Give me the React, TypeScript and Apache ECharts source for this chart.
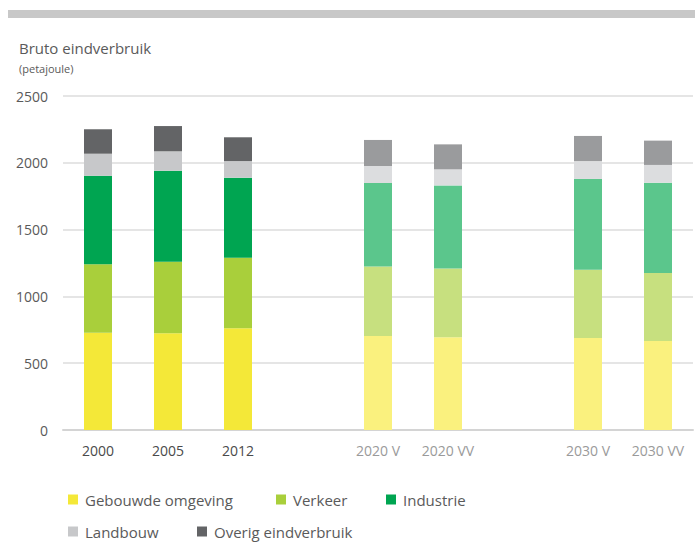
import React, { useEffect, useRef } from "react";
import * as echarts from "echarts";

const categories = ["2000", "2005", "2012", "", "2020 V", "2020 VV", "", "2030 V", "2030 VV"];
const gebouwd = [728, 724, 761, null, 704, 694, null, 689, 666];
const verkeer = [512, 536, 529, null, 519, 514, null, 511, 509];
const industrie = [663, 681, 599, null, 626, 623, null, 679, 676];
const landbouw = [165, 145, 124, null, 127, 120, null, 134, 133];
const overig = [183, 189, 178, null, 195, 187, null, 188, 182];
const projection = [false, false, false, false, true, true, false, true, true];

const seriesNames = ["Gebouwde omgeving", "Verkeer", "Industrie", "Landbouw", "Overig eindverbruik"];
const seriesValues = [gebouwd, verkeer, industrie, landbouw, overig];
const histColors = ["#f4e838", "#a9cf3b", "#00a551", "#c7c8ca", "#636466"];
const projColors = ["#faf17e", "#c7e07f", "#5bc68c", "#dcdddf", "#9a9b9d"];

const FONT = "'Open Sans', 'Noto Sans', sans-serif";

export default function App() {
  const ref = useRef<HTMLDivElement>(null);
  useEffect(() => {
    if (!ref.current) return;
    const chart = echarts.init(ref.current, null, { renderer: "svg" });
    const legendPos = [
      { left: 63, top: 487 },
      { left: 271, top: 487 },
      { left: 381, top: 487 },
      { left: 63, top: 519 },
      { left: 192, top: 519 },
    ];
    chart.setOption({
      animation: false,
      backgroundColor: "#ffffff",
      textStyle: { fontFamily: FONT },
      title: {
        text: "Bruto eindverbruik",
        subtext: "(petajoule)",
        left: 14,
        top: 35,
        itemGap: 8,
        textStyle: { fontSize: 15, fontWeight: "normal", color: "#5a5a5a", fontFamily: FONT },
        subtextStyle: { fontSize: 11, color: "#5a5a5a", fontFamily: FONT },
      },
      graphic: [
        {
          type: "rect",
          shape: { x: 8, y: 10, width: 687, height: 8 },
          style: { fill: "#c8c8c8" },
        },
      ],
      legend: seriesNames.map((n, i) => ({
        data: [n],
        left: legendPos[i].left,
        top: legendPos[i].top,
        itemWidth: 10,
        itemHeight: 10,
        icon: "rect",
        textStyle: { fontSize: 15, color: "#5a5a5a", fontFamily: FONT, padding: [0, 0, 0, 2] },
        selectedMode: false,
      })),
      grid: { left: 63, right: 2, top: 96, bottom: 112 },
      xAxis: {
        type: "category",
        data: categories,
        axisLine: { lineStyle: { color: "#d4d4d4", width: 2 } },
        axisTick: { show: false },
        axisLabel: {
          margin: 13,
          fontSize: 14,
          fontFamily: FONT,
          color: (v: string, idx: number) => (projection[idx] ? "#9a9a9a" : "#4a4a4a"),
        },
      },
      yAxis: {
        type: "value",
        min: 0,
        max: 2500,
        interval: 500,
        axisLine: { show: false },
        axisTick: { show: false },
        axisLabel: {
          margin: 15,
          fontSize: 14,
          color: "#5a5a5a",
          fontFamily: FONT,
          formatter: (v: number) => String(v),
        },
        splitLine: { lineStyle: { color: "#dddddd", width: 1.5 } },
      },
      series: seriesNames.map((n, si) => ({
        name: n,
        type: "bar",
        stack: "total",
        barWidth: 28,
        itemStyle: { color: histColors[si] },
        data: seriesValues[si].map((v, ci) => ({
          value: v,
          itemStyle: { color: projection[ci] ? projColors[si] : histColors[si] },
        })),
      })),
    });
    return () => chart.dispose();
  }, []);
  return (
    <div
      ref={ref}
      style={{ position: "fixed", left: 0, top: 0, width: 695, height: 542 }}
    />
  );
}
